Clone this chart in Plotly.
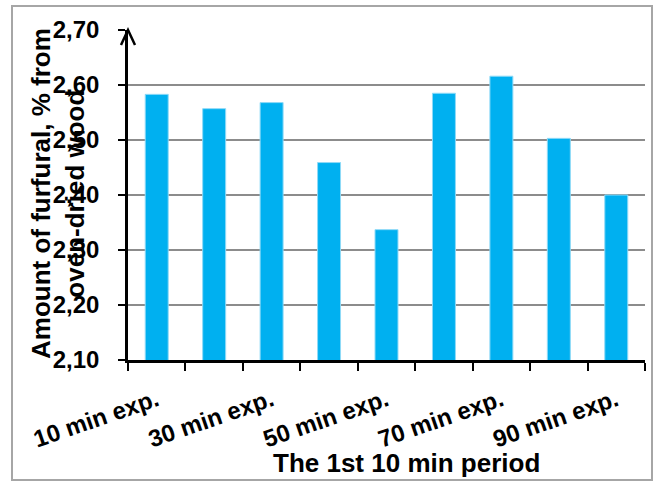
import plotly.graph_objects as go

# Furfural yield for each exposure time within the first 10 min period
categories = ["10 min exp.", "20 min exp.", "30 min exp.", "40 min exp.", "50 min exp.",
              "60 min exp.", "70 min exp.", "80 min exp.", "90 min exp."]
furfural = [2.583, 2.557, 2.568, 2.459, 2.337, 2.585, 2.616, 2.503, 2.400]
y_ticks = [2.10, 2.20, 2.30, 2.40, 2.50, 2.60, 2.70]

FONT = "Liberation Sans, Arial, sans-serif"
positions = list(range(len(categories)))

fig = go.Figure()
fig.add_trace(go.Bar(
    x=positions,
    y=furfural,
    base=0,
    width=0.4,
    marker=dict(color="#00B0F0", line=dict(color="#8FDAF7", width=1)),
    hoverinfo="y",
))

fig.update_layout(
    width=654, height=482,
    margin=dict(l=128, r=9, t=30, b=122),
    paper_bgcolor="white", plot_bgcolor="white",
    separators=", ",
    showlegend=False,
    font=dict(family=FONT, color="black"),
)

fig.update_xaxes(
    range=[-0.5, len(categories) - 0.5],
    tickmode="array",
    tickvals=positions[::2],
    ticktext=categories[::2],
    tickangle=-19,
    ticks="",
    tickfont=dict(family=FONT, size=24, weight="bold", color="black"),
    ticklabelstandoff=14,
    showline=True, linecolor="black", linewidth=3,
    showgrid=False, zeroline=False,
    minor=dict(ticks="outside", tick0=-0.5, dtick=1, ticklen=8, tickwidth=2, tickcolor="black"),
)

fig.update_yaxes(
    range=[y_ticks[0], y_ticks[-1]],
    tickmode="array",
    tickvals=y_ticks,
    tickformat=".2f",
    ticks="outside", ticklen=7, tickwidth=2, tickcolor="black",
    tickfont=dict(family=FONT, size=24, weight="bold", color="black"),
    ticklabelstandoff=14,
    showline=True, linecolor="black", linewidth=2.5,
    showgrid=True, gridcolor="#8c8c8c", gridwidth=1.5,
    zeroline=False,
)

# Arrowhead at the top of the value axis
fig.add_shape(
    type="path", xref="paper", yref="paper",
    xsizemode="pixel", ysizemode="pixel", xanchor=0, yanchor=1,
    path="M -7,-15 L 0,0 L 7,-15",
    line=dict(color="black", width=2.5),
)

# Outer frame
fig.add_shape(
    type="rect", xref="paper", yref="paper",
    x0=(12 - 128) / 517, x1=(652 - 128) / 517,
    y0=(360 - 480) / 330, y1=(360 - 6) / 330,
    line=dict(color="#a6a6a6", width=2),
)

# Axis titles
fig.add_annotation(
    text="Amount of furfural, % from<br>oven-dried wood",
    xref="paper", yref="paper",
    x=(58 - 128) / 517, y=(360 - 194) / 330,
    xanchor="center", yanchor="middle",
    textangle=-90, showarrow=False,
    font=dict(family=FONT, size=26, weight="bold", color="black"),
)
fig.add_annotation(
    text="The 1st 10 min period",
    xref="paper", yref="paper",
    x=(406 - 128) / 517, y=(360 - 463) / 330,
    xanchor="center", yanchor="middle",
    showarrow=False,
    font=dict(family=FONT, size=26, weight="bold", color="black"),
)

fig.write_html("out.html")
